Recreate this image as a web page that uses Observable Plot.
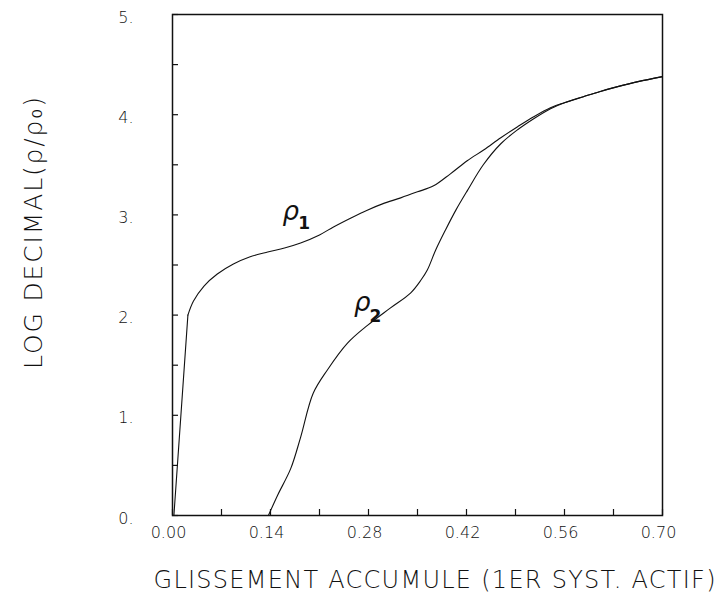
<!DOCTYPE html>
<html>
<head>
<meta charset="utf-8">
<script src="https://cdn.jsdelivr.net/npm/d3@7"></script>
<script src="https://cdn.jsdelivr.net/npm/@observablehq/plot@0.6"></script>
<style>
  html, body { margin: 0; padding: 0; background: #fff; }
  #chart svg { display: block; }
</style>
</head>
<body>
<div id="chart"></div>
<script>
// ---- data ----
const xTitle = "GLISSEMENT ACCUMULE (1ER SYST. ACTIF)";
const yTitle = "LOG DECIMAL(ρ/ρ₀)";

const xTickValues = [0, 0.14, 0.28, 0.42, 0.56, 0.70];
const xMinorTicks = [0, 0.07, 0.14, 0.21, 0.28, 0.35, 0.42, 0.49, 0.56, 0.63, 0.70];
const yTickValues = [0, 1, 2, 3, 4, 5];
const yMinorTicks = [0, 0.5, 1, 1.5, 2, 2.5, 3, 3.5, 4, 4.5, 5];

// rho1: steep straight rise to the knee, then a smooth curve
const rho1RiseX = [0.002, 0.022];
const rho1RiseY = [0.00, 2.00];
const rho1X = [0.022, 0.030, 0.045, 0.064, 0.087, 0.110, 0.136, 0.160, 0.183, 0.210, 0.230, 0.255, 0.279, 0.300, 0.326, 0.350, 0.373, 0.397, 0.421, 0.445, 0.469, 0.493, 0.516, 0.540, 0.560, 0.587, 0.610, 0.636, 0.665, 0.700];
const rho1Y = [2.00, 2.14, 2.29, 2.41, 2.51, 2.58, 2.63, 2.67, 2.72, 2.80, 2.88, 2.97, 3.05, 3.11, 3.17, 3.23, 3.29, 3.41, 3.54, 3.65, 3.77, 3.88, 3.98, 4.07, 4.12, 4.18, 4.23, 4.28, 4.33, 4.38];

const rho2X = [0.137, 0.150, 0.169, 0.183, 0.201, 0.221, 0.250, 0.279, 0.311, 0.340, 0.355, 0.364, 0.376, 0.390, 0.405, 0.421, 0.444, 0.469, 0.493, 0.516, 0.540, 0.560, 0.587, 0.610, 0.636, 0.665, 0.700];
const rho2Y = [0.00, 0.20, 0.47, 0.78, 1.22, 1.45, 1.72, 1.90, 2.07, 2.22, 2.35, 2.45, 2.65, 2.85, 3.05, 3.24, 3.50, 3.71, 3.85, 3.96, 4.06, 4.12, 4.18, 4.23, 4.28, 4.33, 4.38];

const curveLabels = ["ρ", "ρ"];
const curveLabelX = [0.169, 0.271];
const curveLabelY = [3.03, 2.12];
const subLabels = ["1", "2"];
const subLabelX = [0.188, 0.290];
const subLabelY = [2.91, 1.99];

// ---- build tables ----
const rho1Rise = rho1RiseX.map((x, i) => ({x, y: rho1RiseY[i]}));
const rho1 = rho1X.map((x, i) => ({x, y: rho1Y[i]}));
const rho2 = rho2X.map((x, i) => ({x, y: rho2Y[i]}));
const mainLabels = curveLabels.map((t, i) => ({t, x: curveLabelX[i], y: curveLabelY[i]}));
const subs = subLabels.map((t, i) => ({t, x: subLabelX[i], y: subLabelY[i]}));

const W = 718, H = 606;
const mL = 172, mR = 56, mT = 14, mB = 91;
const plotW = W - mL - mR, plotH = H - mT - mB;
const tickLen = 6;
const ink = "#111";
const font = "DejaVu Sans";

const chart = Plot.plot({
  width: W,
  height: H,
  marginLeft: mL,
  marginRight: mR,
  marginTop: mT,
  marginBottom: mB,
  style: {fontFamily: font, fontSize: "16px", color: ink, background: "#fff"},
  x: {domain: [0, 0.7], label: null},
  y: {domain: [0, 5], label: null},
  marks: [
    // inward ticks
    Plot.tickY(yMinorTicks, {y: d => d, insetRight: plotW - tickLen, stroke: ink, strokeWidth: 1.2}),
    Plot.tickX(xMinorTicks, {x: d => d, insetTop: plotH - tickLen, stroke: ink, strokeWidth: 1.2}),
    // tick labels
    Plot.axisY({ticks: yTickValues, tickSize: 0, tickPadding: 39, tickFormat: d => d + ".", fontWeight: 300, dy: 3, label: null}),
    Plot.axisX({ticks: xTickValues, tickSize: 0, tickPadding: 11, tickFormat: d3.format(".2f"), fontWeight: 300, dx: -4, label: null}),
    // curves
    Plot.line(rho1Rise, {x: "x", y: "y", stroke: ink, strokeWidth: 1.1}),
    Plot.line(rho1, {x: "x", y: "y", curve: "catmull-rom", stroke: ink, strokeWidth: 1.1}),
    Plot.line(rho2, {x: "x", y: "y", curve: "catmull-rom", stroke: ink, strokeWidth: 1.1}),
    // curve labels
    Plot.text(mainLabels, {x: "x", y: "y", text: "t", fontSize: 26, fontStyle: "italic", fill: ink}),
    Plot.text(subs, {x: "x", y: "y", text: "t", fontSize: 17, fontWeight: "bold", fill: ink}),
    // axis titles
    Plot.text([yTitle], {text: d => d, frameAnchor: "left", textAnchor: "middle", rotate: -90, dx: -139, dy: -32, fontSize: 25, fontWeight: 300, fill: ink}),
    Plot.text([xTitle], {text: d => d, frameAnchor: "bottom", textAnchor: "middle", dx: 17, dy: 72, fontSize: 24, fontWeight: 300, fill: ink}),
    Plot.frame({stroke: ink, strokeWidth: 1.5})
  ]
});

// stretch the two titles to the widths they span in the reference
chart.querySelectorAll("text").forEach(t => {
  if (t.textContent === xTitle) { t.setAttribute("textLength", 562); t.setAttribute("lengthAdjust", "spacing"); }
  if (t.textContent === yTitle) { t.setAttribute("textLength", 272); t.setAttribute("lengthAdjust", "spacing"); }
});

document.getElementById("chart").append(chart);
</script>
</body>
</html>
